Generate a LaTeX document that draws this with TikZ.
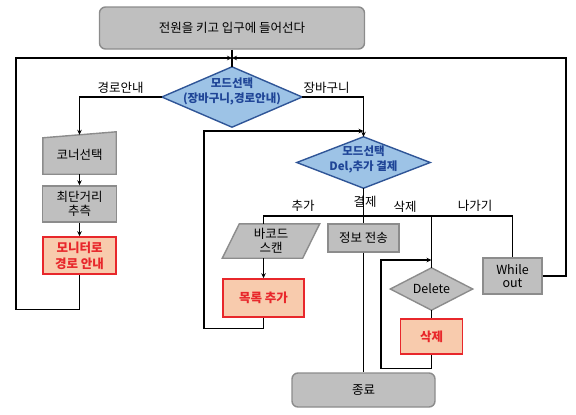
\documentclass[tikz,border=0pt]{standalone}
\usepackage{fontspec}
\setmainfont{Noto Sans CJK KR}
\usetikzlibrary{arrows.meta,backgrounds}
\definecolor{boxgray}{HTML}{BFBFBF}
\definecolor{edgegray}{HTML}{8C8C8C}
\definecolor{modefill}{HTML}{9DC3E6}
\definecolor{modeedge}{HTML}{2F5597}
\definecolor{modeink}{HTML}{1F4597}
\definecolor{salmon}{HTML}{F8CBAD}
\definecolor{alertred}{HTML}{E8272B}
\begin{document}
\begin{tikzpicture}[x=1pt,y=-1pt,
  font=\fontsize{12.5}{15}\selectfont,
  graybox/.style={draw=edgegray,fill=boxgray,line width=1.4pt,align=center,inner sep=0pt},
  roundbox/.style={graybox,rounded corners=6pt},
  redbox/.style={draw=alertred,fill=salmon,line width=1.6pt,text=alertred,align=center,inner sep=0pt,
    font=\fontsize{12.5}{16}\selectfont\bfseries},
  holder/.style={align=center,inner sep=0pt},
  modeink/.style={holder,text=modeink,font=\fontsize{11.5}{15}\selectfont\bfseries},
  modeshape/.style={draw=modeedge,fill=modefill,line width=1.4pt},
  grayshape/.style={draw=edgegray,fill=boxgray,line width=1.4pt},
  link/.style={line width=1.1pt},
  flow/.style={link,-{Stealth[length=5pt,width=4.5pt]}},
  lbl/.style={inner sep=2.5pt}]
  \useasboundingbox (0,0) rectangle (576,415);
  % 시작
  \node[roundbox,minimum width=265pt,minimum height=42pt] (start) at (232,28) {전원을 키고 입구에 들어선다};
  % 모드선택 1 (마름모는 배경에)
  \node[holder,minimum width=140pt,minimum height=60pt] (mode1) at (232,97) {};
  \node[modeink] (mode1txt) at (232,91) {모드선택\\(장바구니,경로안내)};
  % 경로안내 쪽
  \node[holder,minimum width=73pt,minimum height=39pt] (corner) at (79.5,154.5) {코너선택};
  \node[graybox,minimum width=74pt,minimum height=36pt,font=\fontsize{12.5}{14}\selectfont] (shortest) at (79.5,204) {최단거리\\추측};
  \node[redbox,minimum width=73pt,minimum height=37pt] (monitor) at (79.5,255.5) {모니터로\\경로 안내};
  % 모드선택 2
  \node[holder,minimum width=133pt,minimum height=51pt] (mode2) at (363.5,162.5) {};
  \node[modeink] (mode2txt) at (363.5,159) {모드선택\\Del,추가 결제};
  % 장바구니 쪽
  \node[holder,minimum width=97pt,minimum height=34pt,font=\fontsize{12.5}{14}\selectfont] (scan) at (271,241) {바코드\\스캔};
  \node[redbox,minimum width=81pt,minimum height=38pt] (list) at (263.5,298) {목록 추가};
  \node[graybox,minimum width=71pt,minimum height=28pt] (info) at (363.5,238) {정보 전송};
  \node[holder,minimum width=82pt,minimum height=42pt] (delete) at (431.5,289) {Delete};
  \node[redbox,minimum width=62pt,minimum height=35pt] (remove) at (431.5,336.5) {삭제};
  \node[graybox,minimum width=59pt,minimum height=36pt,font=\fontsize{12.5}{13.5}\selectfont] (whileout) at (512.5,276) {While\\out};
  \node[roundbox,minimum width=143pt,minimum height=34pt] (end) at (363.5,390) {종료};
  % 가지 이름
  \node[lbl] (lbladd) at (303,206) {추가};
  \node[lbl] (lblpay) at (365,202) {결제};
  \node[lbl] (lbldel) at (405,207) {삭제};
  \node[lbl] (lblexit) at (475,206) {나가기};
  % 배경 도형
  \begin{scope}[on background layer]
    \draw[modeshape] (mode1.north) -- (mode1.east) -- (mode1.south) -- (mode1.west) -- cycle;
    \draw[modeshape] (mode2.north) -- (mode2.east) -- (mode2.south) -- (mode2.west) -- cycle;
    \draw[grayshape] (corner.south west) -- (corner.south east) -- ([yshift=3pt]corner.north east)
      -- ([yshift=-3pt]corner.north west) -- cycle;
    \draw[grayshape] ([xshift=17pt]scan.north west) -- (scan.north east) -- ([xshift=-17pt]scan.south east)
      -- (scan.south west) -- cycle;
    \draw[grayshape] (delete.north) -- (delete.east) -- (delete.south) -- (delete.west) -- cycle;
  \end{scope}
  % 이음점
  \coordinate (join1) at (232,58);
  \coordinate (lrail) at (16,58);
  \coordinate (rrail) at (566,58);
  \coordinate (join2) at (363.5,131);
  \coordinate (midrail) at (204,131);
  \coordinate (bus) at (363.5,216);
  \coordinate (join3) at (431.5,260);
  \coordinate (delrail) at (381,260);
  % 연결선
  \draw[link] (start.south) -- (mode1.north);
  \draw[flow] (mode1.west) -| (corner.north) node[lbl,pos=0.25,above] (lblroute) {경로안내};
  \draw[flow] (corner.south) -- (shortest.north);
  \draw[flow] (shortest.south) -- (monitor.north);
  \draw[flow] (monitor.south) -- ++(0,35) -| (lrail) -- (join1);
  \draw[flow] (mode1.east) -| (mode2.north) node[lbl,pos=0.2,above] (lblcart) {장바구니};
  \draw[link] (mode2.south) -- (info.north);
  \draw[link] (list.north |- scan.north) |- (bus) -| (whileout.north);
  \draw[link] (bus) -| (delete.north);
  \draw[flow] (list.north |- scan.south) -- (list.north);
  \draw[flow] (list.south) -- ++(0,11) -| (midrail) -- (join2);
  \draw[link] (info.south) -- (end.north);
  \draw[link] (delete.south) -- (remove.north);
  \draw[flow] (remove.south) -- ++(0,14) -| (delrail) -- (join3);
  \draw[flow] (whileout.east) -| (rrail) -- (join1);
\end{tikzpicture}
\end{document}
